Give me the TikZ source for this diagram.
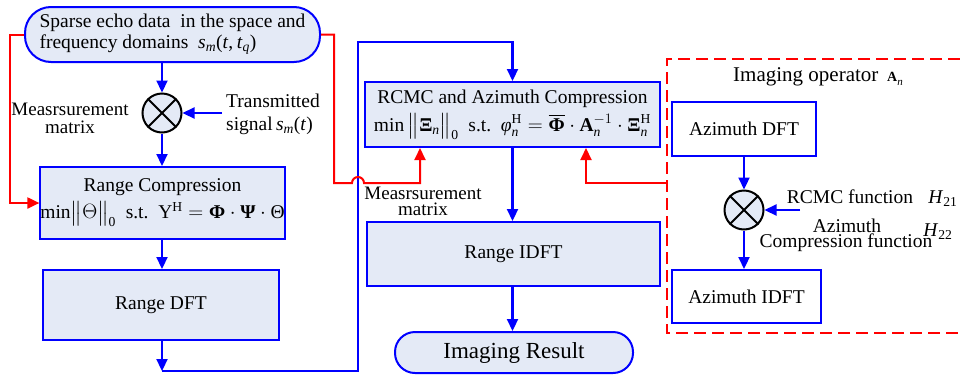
\documentclass[tikz,border=0pt]{standalone}
\usepackage{fontspec}
\usepackage{amsmath}
\setmainfont{Liberation Serif}
\usetikzlibrary{arrows.meta}
\definecolor{fillb}{RGB}{228,234,246}
\definecolor{lblue}{RGB}{0,0,255}
\definecolor{lred}{RGB}{255,0,0}
\newcommand{\tx}[1]{\text{#1}}
\newcommand{\mi}[1]{\text{\textit{#1}}}
\newcommand{\mb}[1]{\text{\textbf{#1}}}
\begin{document}
\begin{tikzpicture}[x=1pt,y=-1pt,
  every node/.style={font=\fontsize{19.5}{22}\selectfont, inner sep=0pt},
  procbox/.style={draw=lblue, line width=2pt, fill=fillb, align=center},
  whitebox/.style={draw=lblue, line width=2pt, fill=white, align=center},
  bline/.style={draw=lblue, line width=2.2pt},
  barrow/.style={bline, -{Triangle[length=12pt,width=11pt]}},
  rline/.style={draw=lred, line width=2pt},
  rarrow/.style={rline, -{Triangle[length=12pt,width=11pt]}},
  mixer/.style={circle, draw=black, line width=2pt, fill=fillb, minimum size=39pt},
  lbl/.style={align=center}
]
\useasboundingbox (0,0) rectangle (960,378);

% nodes left column
\node[procbox, rounded corners=26pt, minimum width=295pt, minimum height=55pt, align=left] (top) at (172.5,34.5)
  {Sparse echo data\ \ in the space and\\[-1pt]frequency domains \ $\mi{s}_{\mi{m}}\tx{(}\mi{t}\tx{,}\,\mi{t}_{\mi{q}}\tx{)}$};
\node[mixer] (m1) at (162,113) {};
\draw[line width=2pt] (m1.north west) -- (m1.south east) (m1.north east) -- (m1.south west);
\node[lbl, font=\fontsize{19}{18}\selectfont] (meas1) at (70,118) {Measrsurement\\matrix};
\node[align=left, anchor=west] (trans) at (226,114) {Transmitted\\[1pt]signal\,$\mi{s}_{\mi{m}}\tx{(}\mi{t}\tx{)}$};
\coordinate (tsrc) at (222,113);
\node[procbox, minimum width=239pt, minimum height=72pt] (rc) at (162.5,203)
  {Range Compression\\[5pt]$\tx{min}\big\|\Theta\big\|_{\tx{0}}$\ \ s.t.\ \ Y$^{\tx{H}}=\mb{Φ}\cdot\mb{Ψ}\cdot\tx{Θ}$};
\node[procbox, minimum width=236pt, minimum height=70pt] (rdft) at (161,305) {Range DFT};
\coordinate (c1) at (162,371);

% middle column
\node[procbox, minimum width=295pt, minimum height=65pt] (rcmc) at (512.5,114.5)
  {RCMC and Azimuth Compression\\[6pt]$\tx{min}\,\big\|\mb{Ξ}_{\mi{n}}\big\|_{\tx{0}}$\ \ s.t.\ \ $\mi{φ}_{\mi{n}}^{\tx{H}}=\overline{\mb{Φ}}\cdot\mb{A}_{\mi{n}}^{-1}\cdot\mb{Ξ}_{\mi{n}}^{\tx{H}}$};
\node[lbl, font=\fontsize{19}{16}\selectfont] (meas2) at (423,201) {Measrsurement\\matrix};
\node[procbox, minimum width=293pt, minimum height=64pt] (ridft) at (513.5,254) {Range IDFT};
\node[procbox, rounded corners=20pt, minimum width=238pt, minimum height=41pt, font=\fontsize{23}{26}\selectfont] (res) at (514,352.5) {Imaging Result};

% right: imaging operator
\draw[draw=lred, line width=2pt, dash pattern=on 12pt off 6pt] (960,59) -- (667,59) -- (667,333) -- (960,333);
\coordinate (dl) at (667,183);
\node[font=\fontsize{21}{24}\selectfont] (opl) at (818,77) {Imaging operator\ \,{\fontsize{14}{14}\selectfont\textbf{A}}\raisebox{-4pt}{\fontsize{11}{11}\selectfont\textit{n}}};
\node[whitebox, minimum width=144pt, minimum height=54pt] (azdft) at (744,129) {Azimuth DFT};
\node[mixer] (m2) at (744,210) {};
\draw[line width=2pt] (m2.north west) -- (m2.south east) (m2.north east) -- (m2.south west);
\node[whitebox, minimum width=149pt, minimum height=53pt] (azidft) at (746.5,296.5) {Azimuth IDFT};
\coordinate (hsrc) at (800,210);
\node (rcmcf) at (850,197) {RCMC function};
\node (h21) at (943,199) {$\mi{H}_{\tx{21}}$};
\node (azl) at (847,226) {Azimuth};
\node (cfl) at (846,243) {Compression function};
\node (h22) at (938,232) {$\mi{H}_{\tx{22}}$};

% blue connectors
\draw[barrow] (top.south -| m1) -- (m1.north);
\draw[barrow] (tsrc) -- (m1.east);
\draw[barrow] (m1.south) -- (m1.south |- rc.north);
\draw[barrow] (rc.south -| m1) -- (m1 |- rdft.north);
\draw[barrow] (m1 |- rdft.south) -- (c1);
\draw[barrow] (c1) -- (358,371) -- (358,42) -- (rcmc.north |- 0,42) -- (rcmc.north);
\draw[barrow] (rcmc.south) -- (rcmc.south |- ridft.north);
\draw[barrow] (ridft.south -| rcmc) -- (rcmc |- res.north);
\draw[barrow] (azdft.south) -- (m2.north);
\draw[barrow] (hsrc) -- (m2.east);
\draw[barrow] (m2.south) -- (m2.south |- azidft.north);

% red connectors
\draw[rarrow] (top.west) -- (10,34.5) -- (10,203) -- (rc.west);
\draw[rarrow] (top.east) -- (334,34.5) -- (334,183) -- (352,183) arc[start angle=180, end angle=0, radius=6pt] -- (420,183) -- (420 ,0 |- rcmc.south);
\draw[rarrow] (dl) -- (586,183) -- (586,0 |- rcmc.south);
\end{tikzpicture}
\end{document}
